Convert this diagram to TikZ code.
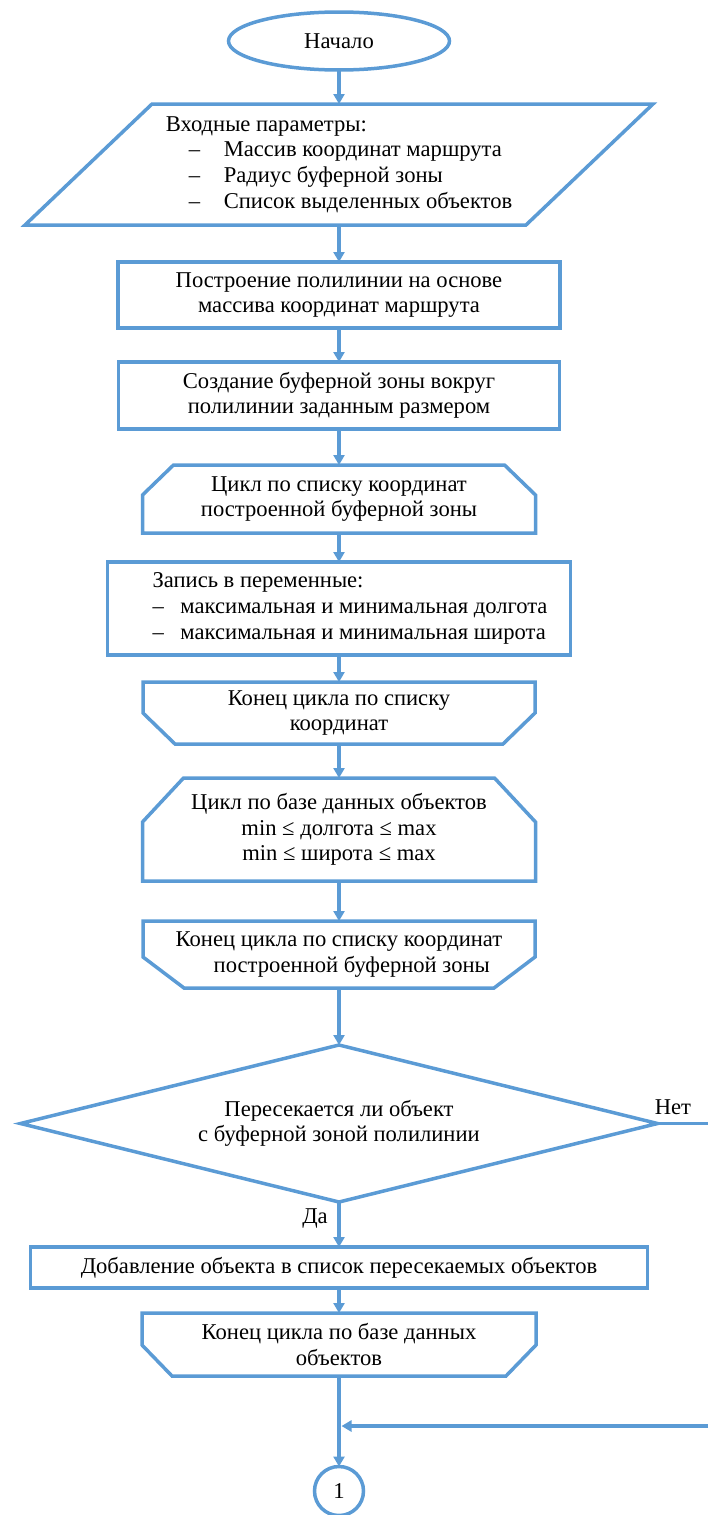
\documentclass[tikz,border=0pt]{standalone}
\usepackage{fontspec}
\setmainfont{Liberation Serif}
\usetikzlibrary{arrows.meta,shapes.geometric}
\definecolor{fblue}{HTML}{5B9BD5}
\newcommand\lpS[3]{\draw[shp] ([xshift=#2]#1.north west) -- ([xshift=-#2]#1.north east) -- ([yshift=-#3]#1.north east) -- (#1.south east) -- (#1.south west) -- ([yshift=-#3]#1.north west) -- cycle;}
\newcommand\lpE[3]{\draw[shp] (#1.north west) -- (#1.north east) -- ([yshift=#3]#1.south east) -- ([xshift=-#2]#1.south east) -- ([xshift=#2]#1.south west) -- ([yshift=#3]#1.south west) -- cycle;}
\begin{document}
\begin{tikzpicture}[x=0.5pt,y=0.5pt,
  txt/.style={font=\fontsize{11.3}{12.8}\selectfont, text=black},
  shp/.style={draw=fblue, line width=1.75pt, line join=miter},
  box/.style={txt, inner sep=0pt, outer sep=0pt, align=center},
  rbox/.style={box, draw=fblue, line width=1.75pt},
  arr/.style={draw=fblue, line width=1.75pt, -{Triangle[length=5pt,width=5.5pt]}},
  ln/.style={draw=fblue, line width=1.75pt}]
\useasboundingbox (0,0) rectangle (708,-1515);

% start
\node[rbox, ellipse, minimum width=110.5pt, minimum height=29pt] (start) at (339,-41) {Начало};

% input parallelogram
\node[box, align=left, minimum width=314pt, minimum height=60.5pt] (inp) at (339,-164.5)
  {Входные параметры:\\
   \hspace*{11.5pt}\makebox[17.5pt][l]{–}Массив координат маршрута\\
   \hspace*{11.5pt}\makebox[17.5pt][l]{–}Радиус буферной зоны\\
   \hspace*{11.5pt}\makebox[17.5pt][l]{–}Список выделенных объектов};
\draw[shp] ([xshift=63.5pt]inp.north west) -- (inp.north east) -- ([xshift=-63.5pt]inp.south east) -- (inp.south west) -- cycle;

% process boxes
\node[rbox, minimum width=221pt, minimum height=33pt] (r1) at (339,-295)
  {Построение полилинии на основе\\массива координат маршрута};
\node[rbox, minimum width=220.5pt, minimum height=33.5pt] (r2) at (339,-395.5)
  {Создание буферной зоны вокруг\\полилинии заданным размером};

% loop 1 start
\node[box, minimum width=196.5pt, minimum height=34pt] (l1) at (339,-499)
  {Цикл по списку координат\\построенной буферной зоны};
\lpS{l1}{15.5pt}{15pt}

% record box
\node[rbox, minimum width=231.5pt, minimum height=46.5pt] (r3) at (339,-608.5) {};
\node[txt, align=left, inner sep=0pt] (r3t) at (350,-608.5)
  {Запись в переменные:\\
   \makebox[14pt][l]{–}максимальная и минимальная долгота\\
   \makebox[14pt][l]{–}максимальная и минимальная широта};

% loop 1 end
\node[box, minimum width=196pt, minimum height=31pt] (le1) at (339,-713)
  {Конец цикла по списку\\координат};
\lpE{le1}{16pt}{15.5pt}

% loop 2 start
\node[box, minimum width=196.5pt, minimum height=51.5pt] (l2) at (339,-829.5)
  {Цикл по базе данных объектов\\min ≤ долгота ≤ max\\min ≤ широта ≤ max};
\lpS{l2}{20.5pt}{22pt}

% loop 2 end
\node[box, align=left, minimum width=196pt, minimum height=33.5pt] (le2) at (339,-954.5)
  {Конец цикла по списку координат\\\hspace*{19pt}построенной буферной зоны};
\lpE{le2}{20.5pt}{15.5pt}

% decision
\node[box, minimum width=318.5pt, minimum height=78.5pt] (d) at (339,-1123.5)
  {Пересекается ли объект\\с буферной зоной полилинии};
\draw[shp] (d.north) -- (d.east) -- (d.south) -- (d.west) -- cycle;
\node[txt] (no) at (673,-1107) {Нет};
\node[txt] (yes) at (315,-1218) {Да};

% add box
\node[rbox, minimum width=308.5pt, minimum height=20.5pt] (r4) at (339,-1267.5)
  {Добавление объекта в список пересекаемых объектов};

% loop 3 end
\node[box, minimum width=197pt, minimum height=31.5pt] (le3) at (339,-1344.5)
  {Конец цикла по базе данных\\объектов};
\lpE{le3}{15pt}{15.5pt}

% connector
\node[rbox, circle, minimum size=24.5pt] (c1) at (339,-1491) {1};

\coordinate (eR) at (708,-1123.5);
\coordinate (rR) at (708,-1426);
\coordinate (jn) at (341.5,-1426);

% connectors
\draw[arr] (start.south) -- (inp.north);
\draw[arr] (inp.south) -- (r1.north);
\draw[arr] (r1.south) -- (r2.north);
\draw[arr] (r2.south) -- (l1.north);
\draw[arr] (l1.south) -- (r3.north);
\draw[arr] (r3.south) -- (le1.north);
\draw[arr] (le1.south) -- (l2.north);
\draw[arr] (l2.south) -- (le2.north);
\draw[arr] (le2.south) -- (d.north);
\draw[arr] (d.south) -- (r4.north);
\draw[arr] (r4.south) -- (le3.north);
\draw[arr] (le3.south) -- (c1.north);
\draw[ln] (d.east) -- (eR);
\draw[arr] (rR) -- (jn);
\end{tikzpicture}
\end{document}
